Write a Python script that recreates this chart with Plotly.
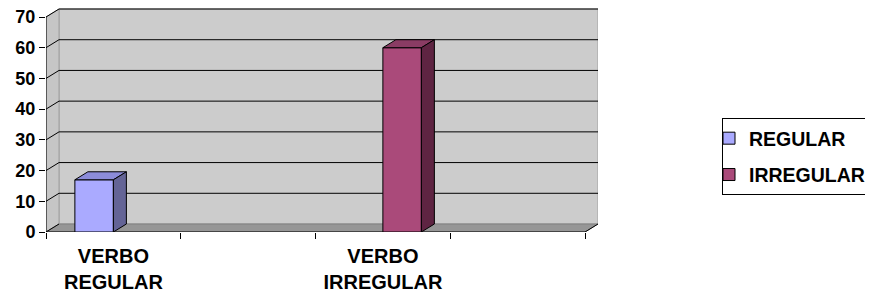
import plotly.graph_objects as go

# ---------------- data ----------------
CATEGORIES = ["VERBO<br>REGULAR", "", "VERBO<br>IRREGULAR", ""]
SERIES_NAMES = ["REGULAR", "IRREGULAR"]
REGULAR = [17, None, None, None]
IRREGULAR = [None, None, 60, None]
Y_TICKS = [0, 10, 20, 30, 40, 50, 60, 70]

# ---------------- styling / geometry ----------------
FRONT = ["#AAAAFF", "#AA4A7A"]
TOP = ["#8C8CD9", "#8A3C64"]
SIDE = ["#646496", "#5E2442"]
FONT = "Arial, 'Liberation Sans', sans-serif"

PAGE_OFF = 8                      # default body margin of the page
W_PX, H_PX = 873 - PAGE_OFF, 297 - PAGE_OFF
ML = 46 - PAGE_OFF
MT = 8 - PAGE_OFF
PLOT_W = 552
PLOT_H = 224
MR = W_PX - ML - PLOT_W
MB = H_PX - MT - PLOT_H
DEPTH_X_PX, DEPTH_Y_PX = 13, 8
N = len(CATEGORIES)
Y_MAX = Y_TICKS[-1]

px_per_x = (PLOT_W - DEPTH_X_PX) / N
px_per_y = 215 / Y_MAX
DX = DEPTH_X_PX / px_per_x
DY = DEPTH_Y_PX / px_per_y
X0, X1 = -0.5, N - 0.5
x_range = [X0, X0 + PLOT_W / px_per_x]
y_range = [0, PLOT_H / px_per_y]

GAP = 1.5 / 3.5
BW = (1 - GAP) / 2
OFFSETS = [-BW, 0.0]

fig = go.Figure()

series = [REGULAR, IRREGULAR]
xs = list(range(N))
for s, vals in enumerate(series):
    fig.add_trace(go.Bar(
        x=xs, y=vals, name=SERIES_NAMES[s], width=BW, offset=OFFSETS[s],
        marker=dict(color=FRONT[s], line=dict(color="black", width=1)),
        legendgroup=SERIES_NAMES[s], hoverinfo="skip",
    ))

# 3D top and side faces computed from the values
for s, vals in enumerate(series):
    for i, v in enumerate(vals):
        if v is None:
            continue
        xa = i + OFFSETS[s]
        xb = xa + BW
        fig.add_trace(go.Scatter(
            x=[xa, xb, xb + DX, xa + DX, xa], y=[v, v, v + DY, v + DY, v],
            fill="toself", fillcolor=TOP[s], mode="lines",
            line=dict(color="black", width=1), showlegend=False, hoverinfo="skip"))
        fig.add_trace(go.Scatter(
            x=[xb, xb + DX, xb + DX, xb, xb], y=[0, DY, v + DY, v, 0],
            fill="toself", fillcolor=SIDE[s], mode="lines",
            line=dict(color="black", width=1), showlegend=False, hoverinfo="skip"))

shapes = []
# back wall
shapes.append(dict(type="rect", x0=X0 + DX, x1=X1 + DX, y0=DY, y1=Y_MAX + DY,
                   fillcolor="#CCCCCC", line=dict(color="#A0A0A0", width=1), layer="below"))
# side wall
shapes.append(dict(type="path",
                   path=f"M {X0},0 L {X0},{Y_MAX} L {X0+DX},{Y_MAX+DY} L {X0+DX},{DY} Z",
                   fillcolor="#C6C6C6", line=dict(color="#A0A0A0", width=1), layer="below"))
# gridlines
for t in Y_TICKS[1:]:
    shapes.append(dict(type="line", x0=X0 + DX, x1=X1 + DX, y0=t + DY, y1=t + DY,
                       line=dict(color="black", width=1), layer="below"))
    shapes.append(dict(type="line", x0=X0, x1=X0 + DX, y0=t, y1=t + DY,
                       line=dict(color="black", width=1), layer="below"))
# floor
shapes.append(dict(type="path",
                   path=f"M {X0},0 L {X1},0 L {X1+DX},{DY} L {X0+DX},{DY} Z",
                   fillcolor="#969696", line=dict(color="#808080", width=1), layer="below"))
# axis lines
shapes.append(dict(type="line", x0=X0, x1=X1, y0=0, y1=0,
                   line=dict(color="black", width=1), layer="below"))
shapes.append(dict(type="line", x0=X1, x1=X1 + DX, y0=0, y1=DY,
                   line=dict(color="black", width=1), layer="below"))
shapes.append(dict(type="line", x0=X0, x1=X0 + DX, y0=0, y1=DY,
                   line=dict(color="black", width=1), layer="below"))
shapes.append(dict(type="line", x0=X0, x1=X0, y0=0, y1=Y_MAX,
                   line=dict(color="black", width=1), layer="below"))

LEG_LEFT = 722 - PAGE_OFF
LEG_TOP = 118 - PAGE_OFF

fig.update_layout(
    width=W_PX, height=H_PX,
    margin=dict(l=ML, r=MR, t=MT, b=MB, autoexpand=False),
    paper_bgcolor="white", plot_bgcolor="white",
    barmode="overlay",
    shapes=shapes,
    font=dict(family=FONT, color="black"),
    showlegend=True,
    legend=dict(
        x=(LEG_LEFT - ML) / PLOT_W, xanchor="left",
        y=1 - (LEG_TOP - MT) / PLOT_H, yanchor="top",
        bordercolor="black", borderwidth=1, bgcolor="white",
        font=dict(family=FONT, size=19.5, weight="bold", color="black"),
        tracegroupgap=8, indentation=-14,
    ),
    xaxis=dict(
        range=x_range, tickvals=xs, ticktext=CATEGORIES, ticks="",
        showgrid=False, zeroline=False, showline=False, automargin=False,
        tickfont=dict(family=FONT, size=20, weight="bold", color="black"),
        ticklabelstandoff=10,
        minor=dict(tickvals=[X0 + k for k in range(N + 1)], ticks="outside",
                   ticklen=6, tickcolor="black", tickwidth=1, showgrid=False),
        fixedrange=True,
    ),
    yaxis=dict(
        range=y_range, tickvals=Y_TICKS, ticks="outside", ticklen=6,
        tickcolor="black", showgrid=False, zeroline=False, showline=False,
        automargin=False, ticklabeloverflow="allow",
        tickfont=dict(family=FONT, size=18, weight="bold", color="black"),
        fixedrange=True,
    ),
)

fig.write_html("out.html")
